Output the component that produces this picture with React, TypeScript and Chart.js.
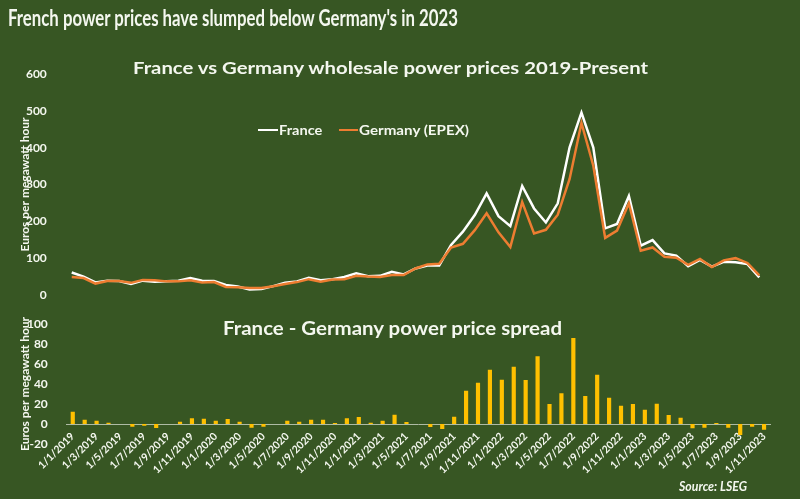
import React, { useEffect, useLayoutEffect, useRef } from 'react';
import { Chart, registerables } from 'chart.js';

Chart.register(...registerables);

// ---------- data ----------
const months = [
  '1/1/2019', '1/2/2019', '1/3/2019', '1/4/2019', '1/5/2019', '1/6/2019', '1/7/2019', '1/8/2019', '1/9/2019', '1/10/2019', '1/11/2019', '1/12/2019',
  '1/1/2020', '1/2/2020', '1/3/2020', '1/4/2020', '1/5/2020', '1/6/2020', '1/7/2020', '1/8/2020', '1/9/2020', '1/10/2020', '1/11/2020', '1/12/2020',
  '1/1/2021', '1/2/2021', '1/3/2021', '1/4/2021', '1/5/2021', '1/6/2021', '1/7/2021', '1/8/2021', '1/9/2021', '1/10/2021', '1/11/2021', '1/12/2021',
  '1/1/2022', '1/2/2022', '1/3/2022', '1/4/2022', '1/5/2022', '1/6/2022', '1/7/2022', '1/8/2022', '1/9/2022', '1/10/2022', '1/11/2022', '1/12/2022',
  '1/1/2023', '1/2/2023', '1/3/2023', '1/4/2023', '1/5/2023', '1/6/2023', '1/7/2023', '1/8/2023', '1/9/2023', '1/10/2023', '1/11/2023',
];

const france = [
  61, 50, 34, 39, 38, 30, 39, 36, 37, 39, 46, 39,
  38, 27, 23, 15, 16, 24, 33, 37, 47, 40, 43, 49,
  59, 51, 52, 63, 56, 72, 80, 80, 136, 172, 217, 276,
  214, 187, 296, 235, 197, 249, 401, 495, 400, 181, 193, 269,
  134, 149, 113, 107, 78, 95, 77, 90, 89, 84, 48,
];

const germany = [
  49, 46, 31, 38, 38, 33, 41, 40, 37, 37, 40, 34,
  35, 22, 21, 19, 19, 24, 30, 35, 43, 36, 42, 43,
  52, 50, 49, 54, 54, 72, 83, 85, 129, 139, 176, 222,
  170, 130, 252, 167, 177, 218, 315, 467, 351, 155, 175, 249,
  120, 129, 104, 101, 82, 98, 76, 94, 100, 87, 53,
];

const spread = [
  12.3, 4.3, 3.3, 1.3, 0, -2.7, -1.7, -4, 0, 2.3, 5.7, 5.3,
  3.3, 5, 2.3, -3.7, -2.7, 0, 3.3, 2.3, 4.3, 4.3, 1, 5.7,
  7, 1.3, 3.3, 9.3, 2, 0, -3, -5, 7.3, 33.3, 41.3, 54.3,
  44.3, 57.3, 44, 67.7, 20, 30.7, 86, 28, 49.3, 26.3, 18.3, 20,
  14.3, 20.3, 9, 6.3, -4.3, -3.7, 1, -3.7, -11, -2.7, -5.7,
];

const seriesNames = ['France', 'Germany (EPEX)'];
const mainTitle = "French power prices have slumped below Germany's in 2023";
const topTitle = 'France vs Germany wholesale power prices 2019-Present';
const bottomTitle = 'France - Germany power price spread';
const axisTitle = 'Euros per megawatt hour';
const sourceText = 'Source: LSEG';

// ---------- style ----------
const BG = '#375623';
const FONT = 'Lato, "Open Sans", "DejaVu Sans", sans-serif';
const TEXT = '#f4f7ef';
const FRANCE_C = '#ffffff';
const GERMANY_C = '#ED7D31';
const BAR_C = '#FFC000';

type FitProps = {
  text: string;
  left: number;
  top: number;
  width: number;
  size: number;
  italic?: boolean;
};

function FitText({ text, left, top, width, size, italic }: FitProps) {
  const ref = useRef<HTMLDivElement>(null);
  useLayoutEffect(() => {
    const el = ref.current;
    if (!el) return;
    const fit = () => {
      el.style.transform = 'none';
      const w = el.getBoundingClientRect().width;
      if (w > 0) el.style.transform = `scaleX(${width / w})`;
    };
    fit();
    if ((document as any).fonts && (document as any).fonts.ready) {
      (document as any).fonts.ready.then(fit);
    }
  }, [text, width]);
  return (
    <div
      ref={ref}
      style={{
        position: 'absolute',
        left,
        top,
        fontSize: size,
        lineHeight: 1,
        fontFamily: FONT,
        fontWeight: 700,
        fontStyle: italic ? 'italic' : 'normal',
        color: TEXT,
        whiteSpace: 'nowrap',
        transformOrigin: '0 0',
        zIndex: 5,
      }}
    >
      {text}
    </div>
  );
}

export default function App() {
  const topRef = useRef<HTMLCanvasElement>(null);
  const botRef = useRef<HTMLCanvasElement>(null);

  useEffect(() => {
    if (!topRef.current || !botRef.current) return;

    const tickFont = { family: FONT, size: 12, weight: 'bold' as const };
    const titleFont = { family: FONT, size: 12, weight: 'bold' as const };

    const top = new Chart(topRef.current, {
      type: 'line',
      data: {
        labels: months,
        datasets: [
          {
            label: seriesNames[0],
            data: france,
            borderColor: FRANCE_C,
            backgroundColor: FRANCE_C,
            borderWidth: 2.5,
            pointRadius: 0,
            tension: 0,
            order: 2,
          },
          {
            label: seriesNames[1],
            data: germany,
            borderColor: GERMANY_C,
            backgroundColor: GERMANY_C,
            borderWidth: 2.5,
            pointRadius: 0,
            tension: 0,
            order: 1,
          },
        ],
      },
      options: {
        animation: false,
        responsive: false,
        events: [],
        layout: { padding: { left: 14, top: 74, right: 800 - 765.2, bottom: 499 - 295 } },
        plugins: { legend: { display: false }, tooltip: { enabled: false }, title: { display: false } },
        scales: {
          x: { display: false, offset: true },
          y: {
            min: 0,
            max: 600,
            ticks: { stepSize: 100, color: TEXT, font: tickFont, padding: 11 },
            grid: { display: false },
            border: { display: false },
            title: { display: true, text: axisTitle, color: TEXT, font: titleFont, padding: { top: 4, bottom: 0 } },
            afterFit: (s: any) => {
              s.width = 65.8 - 14;
            },
          },
        },
      },
    });

    const bot = new Chart(botRef.current, {
      type: 'bar',
      data: {
        labels: months,
        datasets: [
          {
            label: 'Spread',
            data: spread,
            backgroundColor: BAR_C,
            borderWidth: 0,
            barPercentage: 0.35,
            categoryPercentage: 1,
          },
        ],
      },
      options: {
        animation: false,
        responsive: false,
        events: [],
        layout: { padding: { left: 14, top: 324, right: 800 - 770, bottom: 499 - 444 } },
        plugins: { legend: { display: false }, tooltip: { enabled: false }, title: { display: false } },
        scales: {
          x: {
            position: { y: 0 } as any,
            grid: { display: false, drawTicks: false },
            border: { display: true, color: '#aebba4', width: 1 },
            ticks: {
              autoSkip: false,
              maxRotation: 45,
              minRotation: 45,
              color: TEXT,
              font: { family: FONT, size: 10.5, weight: 'bold' as const },
              padding: 6,
              callback: (_v: any, i: number) => (i % 2 === 0 ? months[i] : ''),
            },
          },
          y: {
            min: -20,
            max: 100,
            ticks: { stepSize: 20, color: TEXT, font: tickFont, padding: 11 },
            grid: { display: false },
            border: { display: false },
            title: { display: true, text: axisTitle, color: TEXT, font: titleFont, padding: { top: 4, bottom: 0 } },
            afterFit: (s: any) => {
              s.width = 66.8 - 14;
            },
          },
        },
      },
    });

    return () => {
      top.destroy();
      bot.destroy();
    };
  }, []);

  return (
    <div
      style={{
        position: 'absolute',
        left: 0,
        top: 0,
        width: 800,
        height: 499,
        background: BG,
        overflow: 'hidden',
      }}
    >
      <canvas ref={topRef} width={800} height={499} style={{ position: 'absolute', left: 0, top: 0, width: 800, height: 499 }} />
      <canvas ref={botRef} width={800} height={499} style={{ position: 'absolute', left: 0, top: 0, width: 800, height: 499 }} />

      <FitText text={mainTitle} left={8} top={6.3} width={450} size={23} />
      <FitText text={topTitle} left={133} top={59} width={515} size={17} />

      {/* legend */}
      <div style={{ position: 'absolute', left: 258.3, top: 128.8, width: 20, height: 2.5, background: FRANCE_C, zIndex: 5 }} />
      <FitText text={seriesNames[0]} left={279.3} top={122.6} width={43.4} size={14} />
      <div style={{ position: 'absolute', left: 339.3, top: 128.8, width: 19, height: 2.5, background: GERMANY_C, zIndex: 5 }} />
      <FitText text={seriesNames[1]} left={359.3} top={122.6} width={110} size={14} />

      <FitText text={bottomTitle} left={223} top={318.6} width={339} size={18.5} />
      <FitText text={sourceText} left={679} top={479.3} width={68} size={14} italic />
    </div>
  );
}
